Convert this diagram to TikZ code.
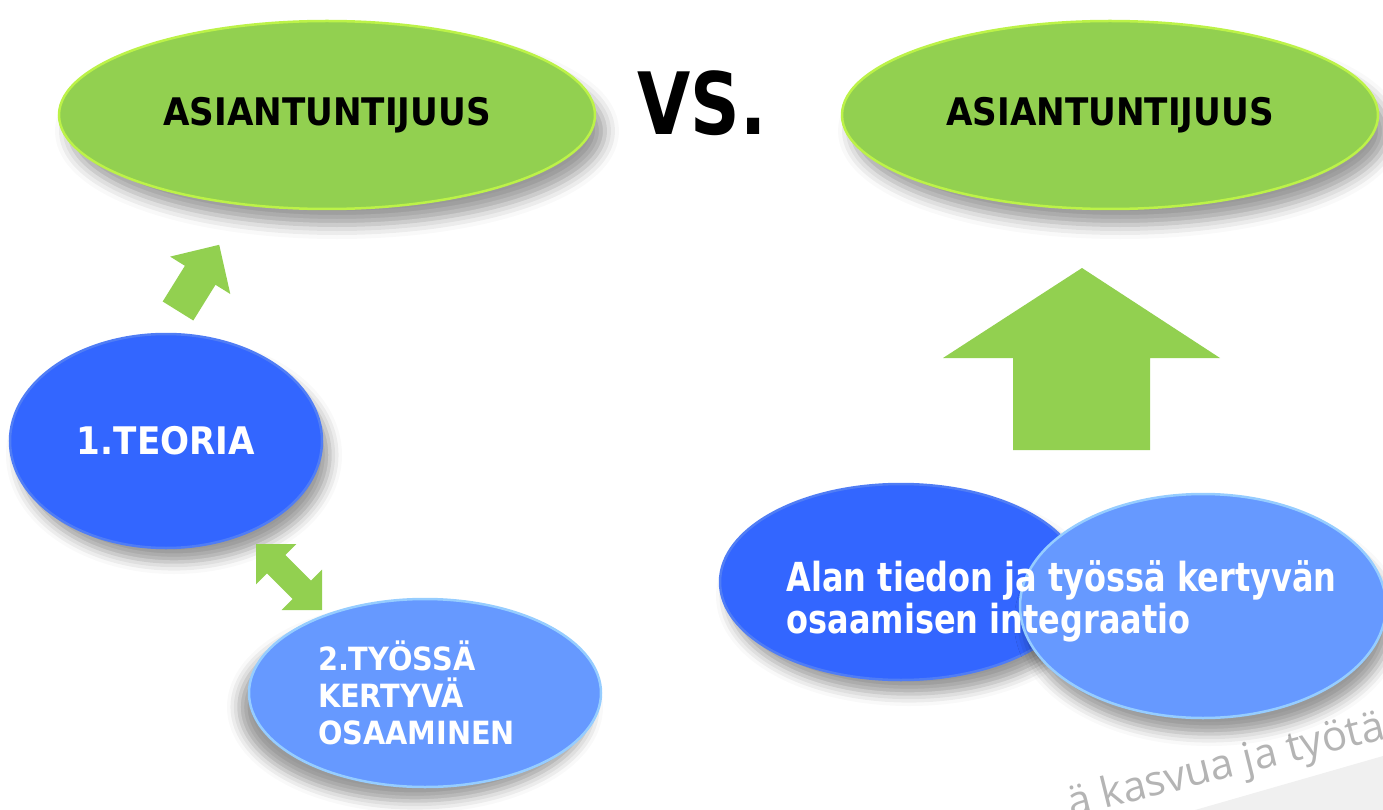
\documentclass[tikz,border=0pt]{standalone}
\usepackage{fontspec}
\setmainfont{DejaVu Sans}[FakeStretch=0.9]
\newfontfamily\narrowfont{DejaVu Sans}[FakeStretch=0.8]
\newfontfamily\markfont{Open Sans}
\usetikzlibrary{shapes.geometric,shadows.blur}
\definecolor{leafgreen}{RGB}{146,208,80}
\definecolor{leafrim}{RGB}{188,242,72}
\definecolor{deepblue}{RGB}{51,102,255}
\definecolor{deeprim}{RGB}{80,125,245}
\definecolor{paleblue}{RGB}{102,153,255}
\definecolor{palerim}{RGB}{150,205,255}
\definecolor{markgray}{RGB}{180,180,180}

\begin{document}
\begin{tikzpicture}[x=1pt,y=-1pt,
    every node/.style={font=\bfseries},
    oval/.style={ellipse,inner sep=0pt,line width=2.5pt},
    greenoval/.style={oval,fill=leafgreen,draw=leafrim,
        minimum width=536pt,minimum height=188pt,
        blur shadow={shadow xshift=10pt,shadow yshift=-16pt,shadow blur radius=14pt,shadow opacity=40}},
    deepoval/.style={oval,fill=deepblue,draw=deeprim,text=white,
        blur shadow={shadow xshift=8pt,shadow yshift=-14pt,shadow blur radius=12pt,shadow opacity=40}},
    paleoval/.style={oval,fill=paleblue,draw=palerim,text=white},
    blockarrow/.style={fill=leafgreen}]
    \useasboundingbox (0,0) rectangle (1383,810);
    \clip (0,0) rectangle (1383,810);

    % watermark in the corner
    \fill[black!6] (1195,810) -- (1383,756) -- (1383,810) -- cycle;
    \node[anchor=base west,rotate=14,text=markgray,font=\markfont\fontsize{42}{46}\selectfont] (mark) at (1068,818) {ä kasvua ja työtä};

    % top ovals
    \node[greenoval] (expertL) at (327,115) {\fontsize{38}{44}\selectfont ASIANTUNTIJUUS};
    \node[greenoval] (expertR) at (1110,115) {\fontsize{38}{44}\selectfont ASIANTUNTIJUUS};
    \node[font=\narrowfont\bfseries\fontsize{86}{90}\selectfont] (vs) at (702,103) {VS.};

    % left side
    \node[deepoval,minimum width=312pt,minimum height=214pt] (theory) at (166,441) {\fontsize{38}{44}\selectfont 1.TEORIA};
    \node[paleoval,minimum width=352pt,minimum height=188pt,text width=214pt,align=left,
        font=\bfseries\fontsize{32}{37}\selectfont,
        blur shadow={shadow xshift=-10pt,shadow yshift=-14pt,shadow blur radius=12pt,shadow opacity=40}] (practice) at (425,693)
        {2.TYÖSSÄ\\KERTYVÄ\\OSAAMINEN};

    % small arrow up to the left oval
    \fill[blockarrow] (162.7,301.5) -- (184.9,265.8) -- (170.1,256.6) -- (219.2,244.8)
        -- (230.3,294.0) -- (215.5,284.8) -- (193.3,320.5) -- cycle;

    % double arrow between theory and practice
    \fill[blockarrow] (256,544) -- (256,584.3) -- (267,573.3) -- (292.7,599) -- (281.7,610) -- (322,610)
        -- (322,569.7) -- (311,580.7) -- (285.3,555) -- (296.3,544) -- cycle;

    % right side
    \node[deepoval,minimum width=362pt,minimum height=196pt] (field) at (901,582) {};
    \node[paleoval,minimum width=366pt,minimum height=224pt,
        blur shadow={shadow xshift=6pt,shadow yshift=-16pt,shadow blur radius=12pt,shadow opacity=40}] (work) at (1203,606) {};
    \node[anchor=west,align=left,text=white,font=\narrowfont\bfseries\fontsize{40}{42}\selectfont] (integ) at (783,601)
        {Alan tiedon ja työssä kertyvän\\osaamisen integraatio};

    % big arrow up to the right oval
    \fill[blockarrow] (1082,268) -- (1220,358) -- (1150,358) -- (1150,450)
        -- (1013,450) -- (1013,358) -- (943,358) -- cycle;
\end{tikzpicture}
\end{document}
